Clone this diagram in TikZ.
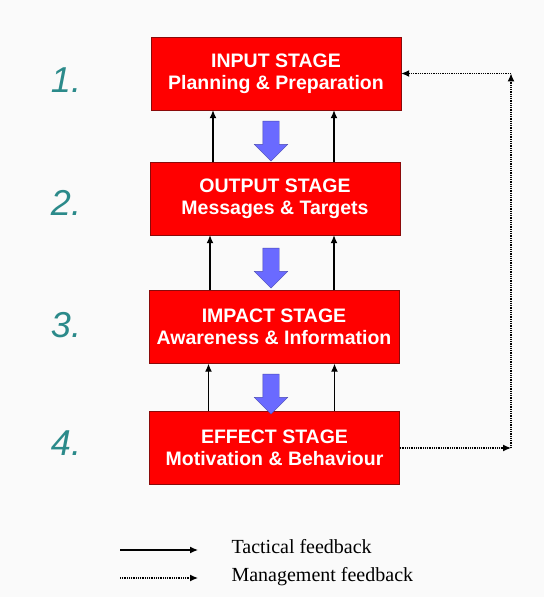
\documentclass[tikz,border=0pt]{standalone}
\usepackage{fontspec}
\setmainfont{Liberation Serif}
\setsansfont{Liberation Sans}
\usetikzlibrary{arrows.meta,positioning,shapes.arrows}
\definecolor{stagered}{HTML}{FF0000}
\definecolor{stageline}{HTML}{8A0A0A}
\definecolor{numteal}{HTML}{2B8A8A}
\definecolor{flowblue}{HTML}{6A6AFF}
\definecolor{paper}{HTML}{FAFAFA}

\begin{document}
\begin{tikzpicture}[x=1pt,y=1pt,>={Latex[length=8pt,width=7pt]},
 stage/.style={draw=stageline,fill=stagered,text=white,minimum width=250pt,minimum height=73pt,
  align=center,font=\sffamily\bfseries\fontsize{19.5}{22}\selectfont},
 num/.style={text=numteal,font=\sffamily\itshape\fontsize{36}{36}\selectfont},
 down/.style={single arrow,draw=flowblue!70!black,fill=flowblue,shape border rotate=270,
  minimum height=40pt,inner sep=0pt,inner xsep=8pt,single arrow head extend=8.5pt},
 mgmt/.style={line width=1.2pt,dash pattern=on 1pt off 0.8pt},
 legend/.style={anchor=west,font=\fontsize{20}{22}\selectfont}]
\fill[paper] (0,0) rectangle (544,597);
\useasboundingbox (0,0) rectangle (544,597);
\node[stage] (input) at (276,523.5) {INPUT STAGE\\Planning \& Preparation};
\node[stage] (output) at (275,398.5) {OUTPUT STAGE\\Messages \& Targets};
\node[stage] (impact) at (274,270) {IMPACT STAGE\\Awareness \& Information};
\node[stage] (effect) at (274.5,149) {EFFECT STAGE\\Motivation \& Behaviour};
\node[num] (n1) at (66,517) {1.};
\node[num] (n2) at (66,394) {2.};
\node[num] (n3) at (66,272) {3.};
\node[num] (n4) at (66,154) {4.};
% flow down
\node[down] (d1) at (271,460) {};
\node[down] (d2) at (271,333) {};
\node[down] (d3) at (271,207) {};
% tactical feedback
\draw[->,line width=1.2pt] ([xshift=-62pt]output.north) -- ([xshift=-62pt]output.north |- input.south);
\draw[->,line width=1.2pt] ([xshift=59pt]output.north) -- ([xshift=59pt]output.north |- input.south);
\draw[->,line width=1.2pt] ([xshift=-64pt]impact.north) -- ([xshift=-64pt]impact.north |- output.south);
\draw[->,line width=1.2pt] ([xshift=60pt]impact.north) -- ([xshift=60pt]impact.north |- output.south);
\draw[->,line width=1.2pt] ([xshift=-66pt]effect.north) -- ([xshift=-66pt]effect.north |- impact.south);
\draw[->,line width=1.2pt] ([xshift=60pt]effect.north) -- ([xshift=60pt]effect.north |- impact.south);
% management feedback
\coordinate (fb1) at (511,149);
\coordinate (fb2) at (511,523.5);
\draw[->,mgmt] (effect.east) -- (fb1);
\draw[->,mgmt] (fb1) -- (fb2);
\draw[->,mgmt] (fb2) -- (input.east);
% legend
\coordinate (tacA) at (120,47);
\coordinate (tacB) at (198,47);
\coordinate (manA) at (120,19);
\coordinate (manB) at (198,19);
\draw[->,line width=1.2pt] (tacA) -- (tacB);
\draw[->,mgmt] (manA) -- (manB);
\node[legend] (tac) at (228,50) {Tactical feedback};
\node[legend] (man) at (228,20) {Management feedback};
\end{tikzpicture}
\end{document}
